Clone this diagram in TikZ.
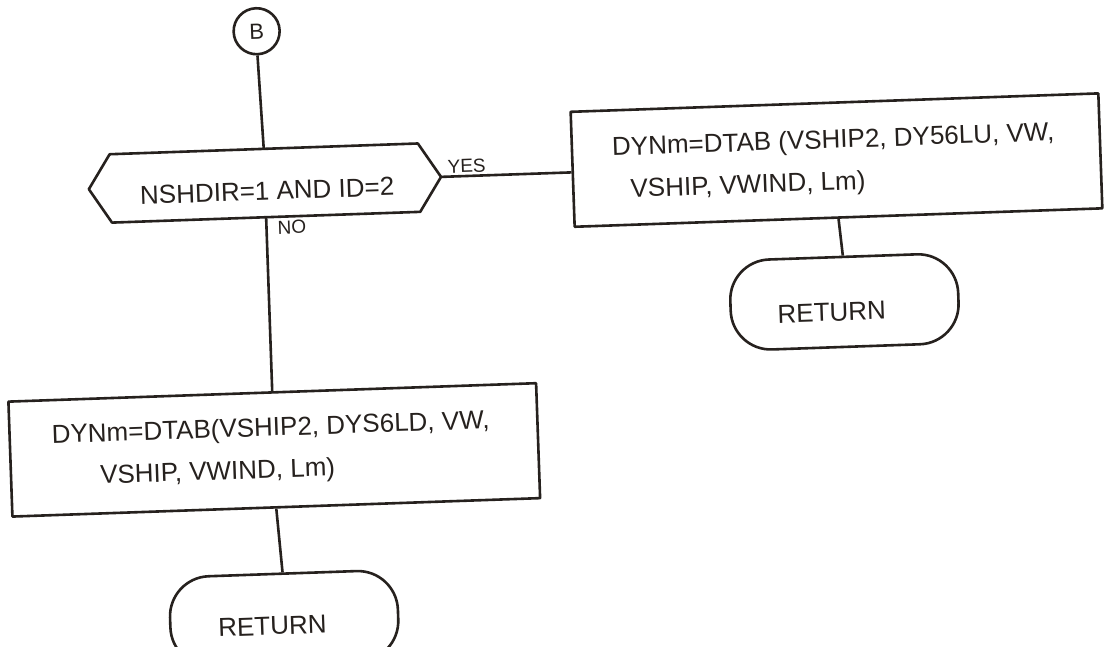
\documentclass[tikz,border=0pt]{standalone}
\usepackage{fontspec}
\setmainfont{Liberation Sans}
\usetikzlibrary{calc}
\definecolor{ink}{RGB}{38,33,30}
\begin{document}
\begin{tikzpicture}[x=1pt,y=-1pt,
  ln/.style={draw=ink,line width=2.6pt,line join=round,line cap=round},
  stepbox/.style={ln,rectangle,minimum width=528pt,minimum height=115pt,inner sep=0pt},
  term/.style={ln,rectangle,rounded corners=40pt,minimum width=228pt,minimum height=90pt,inner sep=0pt},
  conn/.style={draw=ink,line width=2.6pt},
  txt/.style={text=ink,inner sep=0pt,font=\fontsize{26}{30}\selectfont},
  lbl/.style={text=ink,inner sep=0pt,font=\fontsize{19}{22}\selectfont},
]
\fill[white] (0,0) rectangle (1111,646);
\useasboundingbox (0,0) rectangle (1111,646);
\begin{scope}[rotate around={2:(555,323)},transform shape]
% connector B
\node[ln,circle,minimum size=46pt,inner sep=0pt,text=ink,font=\fontsize{22}{24}\selectfont] (b) at (267,21) {B};
% decision
\node[minimum width=352pt,minimum height=68pt,inner sep=0pt] (dec) at (270,173) {};
\draw[ln] (dec.west) -- ($(dec.north west)!22pt!(dec.north east)$) -- ($(dec.north east)!22pt!(dec.north west)$) -- (dec.east) -- ($(dec.south east)!22pt!(dec.south west)$) -- ($(dec.south west)!22pt!(dec.south east)$) -- cycle;
\node[txt] (dect) at (272,181) {NSHDIR=1 AND ID=2};
% right branch
\node[stepbox] (rb) at (842,170) {};
\node[txt,anchor=base west] (rt1) at (618,158) {DYNm=DTAB (VSHIP2, DY56LU, VW,};
\node[txt,anchor=base west] (rt2) at (635,200) {VSHIP, VWIND, Lm)};
\node[term] (rr) at (845,312) {};
\node[txt] (rrt) at (832,322) {RETURN};
% left branch
\node[stepbox] (lb) at (270,440) {};
\node[txt,anchor=base west] (lt1) at (48,426) {DYNm=DTAB(VSHIP2, DYS6LD, VW,};
\node[txt,anchor=base west] (lt2) at (95,468) {VSHIP, VWIND, Lm)};
\node[term] (lr) at (274,609) {};
\node[txt] (lrt) at (262,616) {RETURN};
% connectors
\draw[conn] (b.south) -- (dec.north);
\draw[conn] (dec.east) -- ($(rb.north west)!0.526!(rb.south west)$);
\draw[conn] (dec.south) -- (lb.north);
\draw[conn] (rb.south) -- (rr.north);
\draw[conn] (lb.south) -- (lr.north);
% labels
\node[lbl,anchor=south west] (yes) at (453,170) {YES};
\node[lbl,anchor=north west] (no) at (281,211) {NO};
\end{scope}
\end{tikzpicture}
\end{document}
